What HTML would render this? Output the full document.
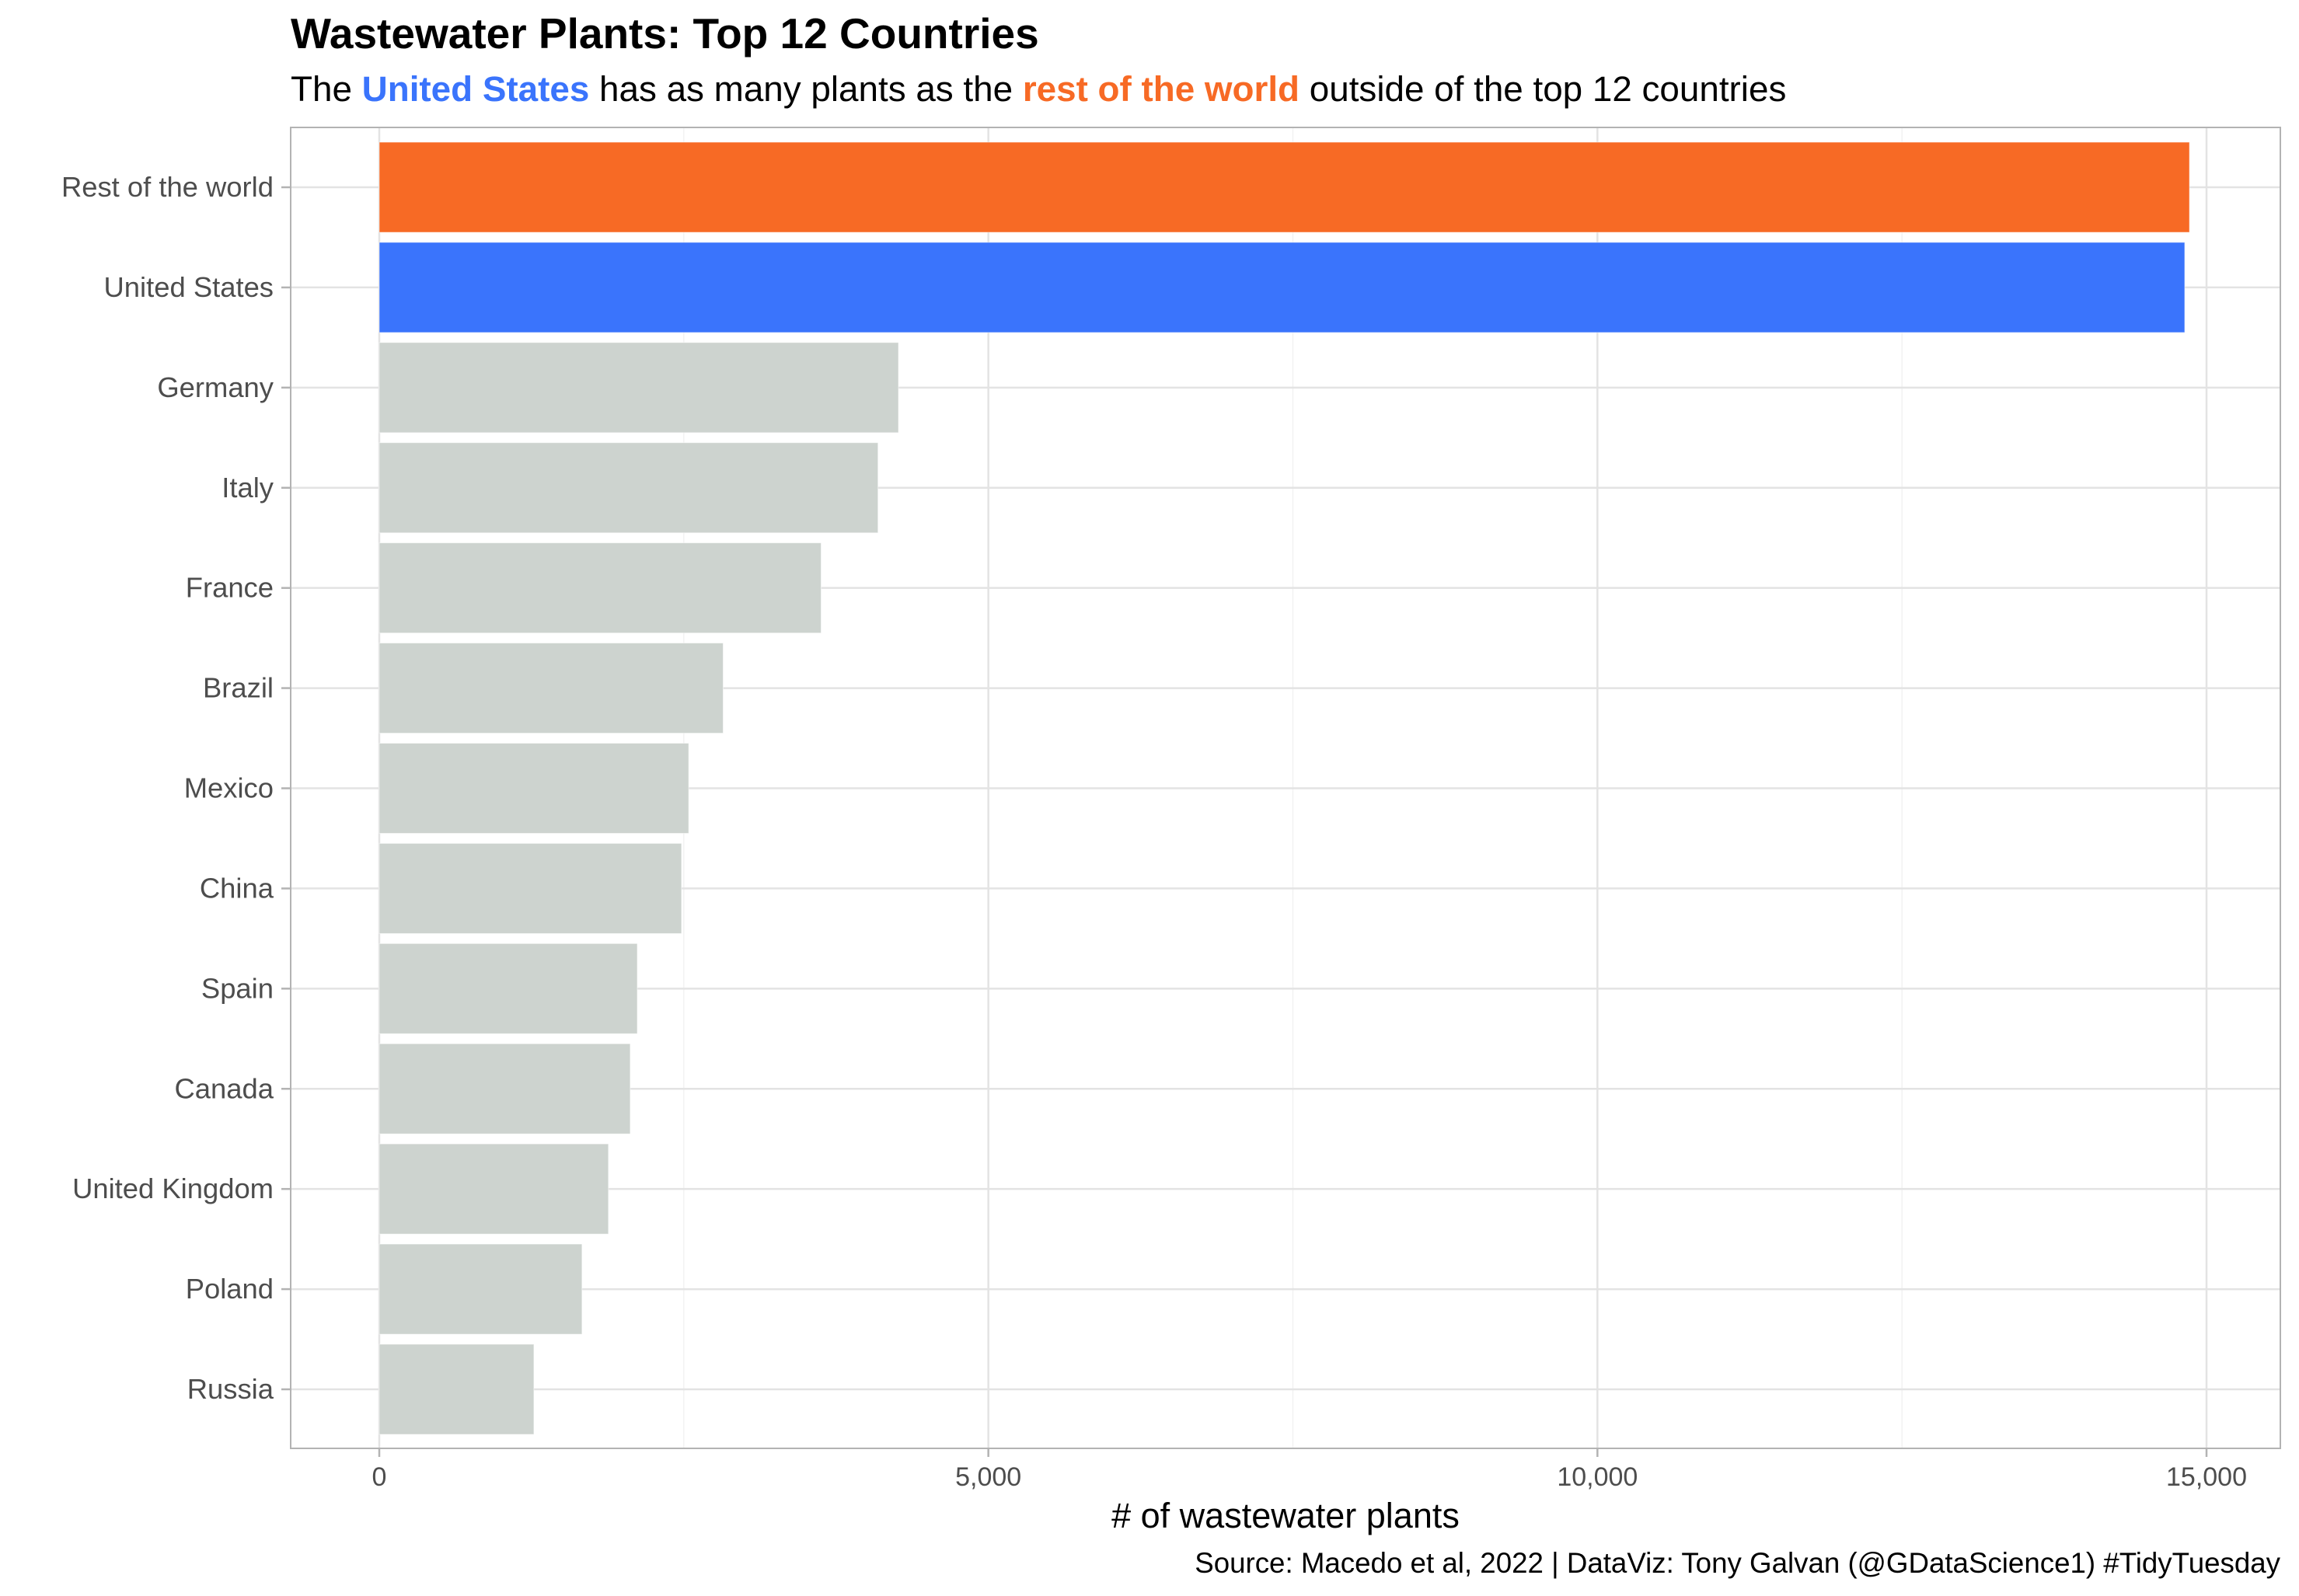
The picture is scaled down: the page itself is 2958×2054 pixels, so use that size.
<!DOCTYPE html>
<html><head><meta charset="utf-8"><style>
html,body{margin:0;padding:0;background:#fff;}
svg{display:block;font-family:"Liberation Sans",Arial,sans-serif;}
</style></head><body>
<svg id="chart" width="2958" height="2054" viewBox="0 0 2958 2054" xmlns="http://www.w3.org/2000/svg">
<text x="374" y="62" font-size="55" font-weight="bold" fill="#000">Wastewater Plants: Top 12 Countries</text>
<text x="374" y="130" font-size="45.8" fill="#000">The <tspan fill="#3a74fc" font-weight="bold">United States</tspan> has as many plants as the <tspan fill="#f76a25" font-weight="bold">rest of the world</tspan> outside of the top 12 countries</text>
<g id="grid"></g>
<g id="bars"></g>
<rect x="374" y="164" width="2560" height="1700" fill="none" stroke="#b3b3b3" stroke-width="2"/>
<g id="yaxis"></g>
<g id="xaxis"></g>
<text x="1654" y="1966" font-size="45" text-anchor="middle" fill="#000"># of wastewater plants</text>
<text x="2934" y="2024" font-size="36.7" text-anchor="end" fill="#000">Source: Macedo et al, 2022 | DataViz: Tony Galvan (@GDataScience1) #TidyTuesday</text>
</svg>
<script>
const categories = ["Rest of the world","United States","Germany","Italy","France","Brazil","Mexico","China","Spain","Canada","United Kingdom","Poland","Russia"];
const values = [14860,14821,4262,4094,3627,2823,2540,2481,2118,2060,1881,1664,1269];
const barColors = ["#f76a25","#3a74fc","#cdd3cf","#cdd3cf","#cdd3cf","#cdd3cf","#cdd3cf","#cdd3cf","#cdd3cf","#cdd3cf","#cdd3cf","#cdd3cf","#cdd3cf"];
const xTicks = [0,5000,10000,15000];
const xTickLabels = ["0","5,000","10,000","15,000"];
const xMinorTicks = [2500,7500,12500];

const NS="http://www.w3.org/2000/svg";
const x0=488, pxPerUnit=(2839-488)/15000;
const xScale=v=>x0+v*pxPerUnit;
const yTop=241, step=(1788-241)/12;
const yScale=i=>yTop+i*step;
const bw=step*0.9;
function mk(tag,attrs,parent){const e=document.createElementNS(NS,tag);for(const k in attrs)e.setAttribute(k,attrs[k]);parent.appendChild(e);return e;}
const grid=document.getElementById('grid'),bars=document.getElementById('bars'),yax=document.getElementById('yaxis'),xax=document.getElementById('xaxis');
xMinorTicks.forEach(v=>{const l=mk('line',{x1:xScale(v),x2:xScale(v),y1:164,y2:1864,stroke:'#f2f2f2','stroke-width':1.5},grid);

});
xTicks.forEach((v,i)=>{const l=mk('line',{x1:xScale(v),x2:xScale(v),y1:164,y2:1864,stroke:'#e3e3e3','stroke-width':2.5},grid);


const t=mk('line',{x1:xScale(v),x2:xScale(v),y1:1864,y2:1875,stroke:'#b3b3b3','stroke-width':2.5},xax);


const tx=mk('text',{x:xScale(v),y:1912,'font-size':34,'text-anchor':'middle',fill:'#4d4d4d'},xax);tx.textContent=xTickLabels[i];

});
categories.forEach((c,i)=>{const y=yScale(i);
const l=mk('line',{x1:374,x2:2934,y1:y,y2:y,stroke:'#e3e3e3','stroke-width':2.5},grid);


const r=mk('rect',{x:x0,y:y-bw/2,width:xScale(values[i])-x0,height:bw,fill:barColors[i],stroke:'rgba(255,255,255,0.5)','stroke-width':1},bars);


const t=mk('line',{x1:362,x2:374,y1:y,y2:y,stroke:'#b3b3b3','stroke-width':2.5},yax);


const tx=mk('text',{x:352,y:y+12,'font-size':36.4,'text-anchor':'end',fill:'#4d4d4d'},yax);tx.textContent=c;

});
</script>
</body></html>
